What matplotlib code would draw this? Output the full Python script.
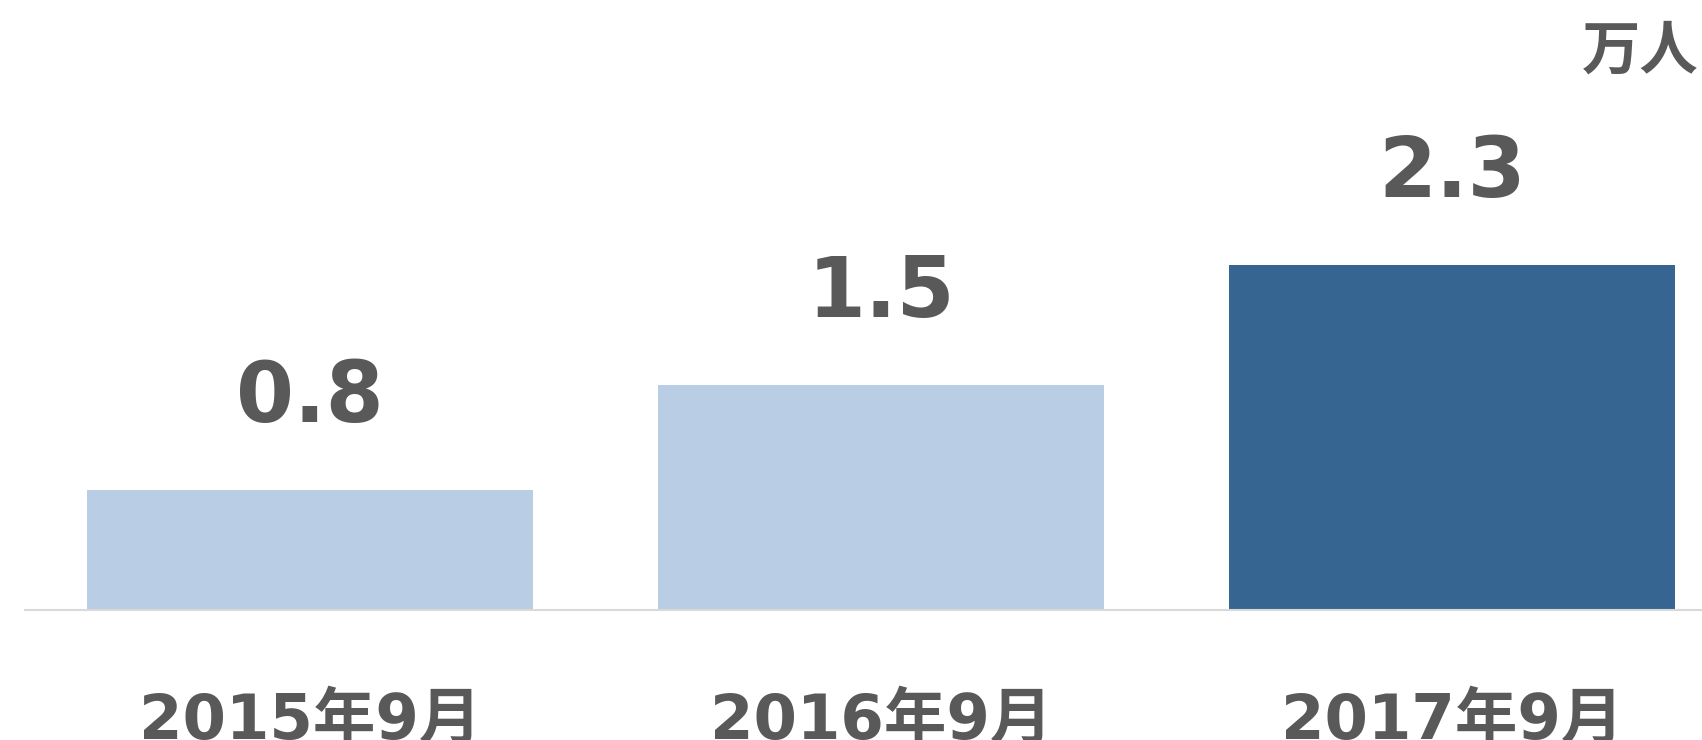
import numpy as np
import matplotlib.pyplot as plt

categories = ['2015年9月', '2016年9月', '2017年9月']
values = [0.8, 1.5, 2.3]
bar_colors = ['#B9CDE5', '#B9CDE5', '#376591']
unit = '万人'

fonts = ['DejaVu Sans', 'Noto Sans CJK JP']
txt = '#595959'

fig = plt.figure(figsize=(17.02, 7.40), dpi=100)
ax = fig.add_axes([0, 130/740, 1, 610/740])

x = np.arange(len(categories))
bars = ax.bar(x, values, width=0.78, color=bar_colors)

ax.set_xlim(-0.543, 2.438)
ax.set_ylim(0, 610/150)

for s in ['top', 'right', 'left']:
    ax.spines[s].set_visible(False)
ax.spines['bottom'].set_color('#D9D9D9')
ax.spines['bottom'].set_linewidth(1.5)
ax.spines['bottom'].set_bounds(-0.499, 2.438)
ax.set_yticks([])
ax.set_xticks([])

# value labels above bars
for xi, v in zip(x, values):
    ax.annotate(f'{v:.1f}', (xi, v), xytext=(0, 49), textcoords='offset points',
                ha='center', va='baseline', fontsize=60, fontweight='bold',
                color=txt, family=fonts)

# category labels (cut at bottom edge like the original)
for xi, c in zip(x, categories):
    ax.text(xi, -0.86, c, ha='center', va='baseline', fontsize=45,
            fontweight='bold', color=txt, family=fonts, clip_on=False)

fig.text(1582/1702, 1 - 22/740, unit, ha='left', va='top', fontsize=42,
         fontweight='bold', color=txt, family=['Noto Sans CJK JP'])

fig.savefig('out.png', dpi=100)
